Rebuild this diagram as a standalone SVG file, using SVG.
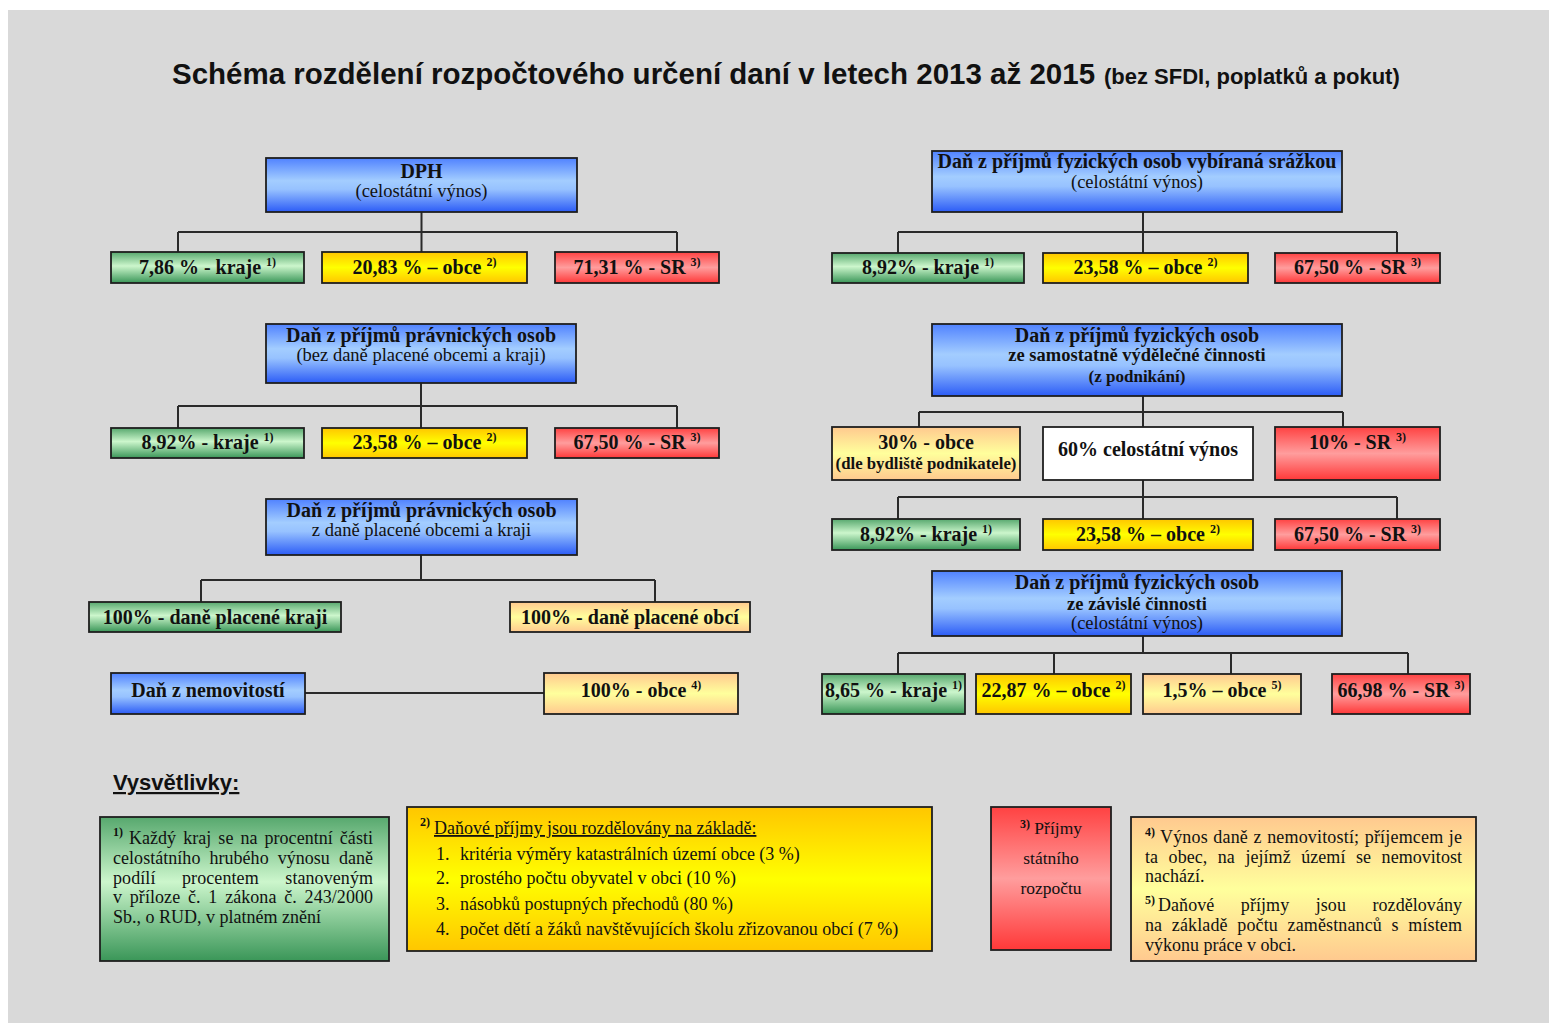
<svg xmlns="http://www.w3.org/2000/svg" width="1549" height="1023" viewBox="0 0 1549 1023">
<defs>
<linearGradient id="gBlue" x1="0" y1="0" x2="0" y2="1"><stop offset="0" stop-color="#5082ff"/><stop offset="0.42" stop-color="#a3cdff"/><stop offset="0.58" stop-color="#97c2ff"/><stop offset="1" stop-color="#2c5cf6"/></linearGradient>
<linearGradient id="gGreen" x1="0" y1="0" x2="0" y2="1"><stop offset="0" stop-color="#57a86e"/><stop offset="0.45" stop-color="#ccf6cc"/><stop offset="1" stop-color="#3a9658"/></linearGradient>
<linearGradient id="gYellow" x1="0" y1="0" x2="0" y2="1"><stop offset="0" stop-color="#ffc600"/><stop offset="0.5" stop-color="#ffff00"/><stop offset="1" stop-color="#ffc600"/></linearGradient>
<linearGradient id="gRed" x1="0" y1="0" x2="0" y2="1"><stop offset="0" stop-color="#ff4242"/><stop offset="0.5" stop-color="#ff9d9d"/><stop offset="1" stop-color="#ff3838"/></linearGradient>
<linearGradient id="gPeach" x1="0" y1="0" x2="0" y2="1"><stop offset="0" stop-color="#ffc98f"/><stop offset="0.5" stop-color="#ffff9c"/><stop offset="1" stop-color="#ffc98f"/></linearGradient>
</defs>
<style>
.box{stroke:#1e1e1e;stroke-width:1.8}
.blue{fill:url(#gBlue)} .green{fill:url(#gGreen)} .yellow{fill:url(#gYellow)} .red{fill:url(#gRed)} .peach{fill:url(#gPeach)} .white{fill:#ffffff}
.conn{stroke:#2a2a2a;stroke-width:2;fill:none}
.t{font-family:"Liberation Serif","Times New Roman",serif;fill:#111;text-anchor:middle}
.b{font-weight:bold;font-size:20px}
.r{font-size:18.5px}
.sup{font-size:12px;font-weight:bold}
.lg{font-family:"Liberation Serif","Times New Roman",serif;fill:#111;font-size:18px}
.lsup{font-size:12px;font-weight:bold}
.ttl{font-family:"Liberation Sans",Arial,sans-serif;font-weight:bold;fill:#111}
</style>
<rect x="8" y="10" width="1541" height="1013" fill="#d9d9d9"/>
<text class="ttl" x="172" y="84" style="font-size:29.5px">Schéma rozdělení rozpočtového určení daní v letech 2013 až 2015</text>
<text class="ttl" x="1104" y="84" style="font-size:22px">(bez SFDI, poplatků a pokut)</text>

<g id="connectors">
<path class="conn" d="M421.5 212V232M178 232H677M178 232V252M421.5 232V252M677 232V252"/>
<path class="conn" d="M421 383V406M178 406H677M178 406V428M421 406V428M677 406V428"/>
<path class="conn" d="M421 555V580M201 580H655M201 580V602M655 580V602"/>
<path class="conn" d="M305 693H544"/>
<path class="conn" d="M1143 212V232M898 232H1397M898 232V253M1143 232V253M1397 232V253"/>
<path class="conn" d="M1143 396V412M919 412H1343M919 412V427M1143 412V427M1343 412V427"/>
<path class="conn" d="M1143 480V497M898 497H1397M898 497V519M1143 497V519M1397 497V519"/>
<path class="conn" d="M1143 636V653M898 653H1408M898 653V674M1054 653V674M1231 653V674M1408 653V674"/>
</g>

<g id="dph"><rect class="box blue" x="266" y="158" width="311" height="54"/>
<text class="t b" x="421.5" y="178">DPH</text><text class="t r" x="421.5" y="197">(celostátní výnos)</text></g>
<g id="dph-kraje"><rect class="box green" x="111" y="252" width="193" height="31"/><text class="t b" x="207.5" y="274">7,86 % - kraje <tspan class="sup" dy="-8">1)</tspan></text></g>
<g id="dph-obce"><rect class="box yellow" x="322" y="252" width="205" height="31"/><text class="t b" x="424.5" y="274">20,83 % – obce <tspan class="sup" dy="-8">2)</tspan></text></g>
<g id="dph-sr"><rect class="box red" x="555" y="252" width="164" height="31"/><text class="t b" x="637" y="274">71,31 % - SR <tspan class="sup" dy="-8">3)</tspan></text></g>

<g id="dppo1"><rect class="box blue" x="266" y="324" width="310" height="59"/>
<text class="t b" x="421" y="342">Daň z příjmů právnických osob</text><text class="t r" x="421" y="361">(bez daně placené obcemi a kraji)</text></g>
<g id="dppo1-kraje"><rect class="box green" x="111" y="428" width="193" height="30"/><text class="t b" x="207.5" y="449">8,92% - kraje <tspan class="sup" dy="-8">1)</tspan></text></g>
<g id="dppo1-obce"><rect class="box yellow" x="322" y="428" width="205" height="30"/><text class="t b" x="424.5" y="449">23,58 % – obce <tspan class="sup" dy="-8">2)</tspan></text></g>
<g id="dppo1-sr"><rect class="box red" x="555" y="428" width="164" height="30"/><text class="t b" x="637" y="449">67,50 % - SR <tspan class="sup" dy="-8">3)</tspan></text></g>

<g id="dppo2"><rect class="box blue" x="266" y="499" width="311" height="56"/>
<text class="t b" x="421.5" y="517">Daň z příjmů právnických osob</text><text class="t r" x="421.5" y="536">z daně placené obcemi a kraji</text></g>
<g id="dppo2-kraje"><rect class="box green" x="89" y="602" width="252" height="30"/><text class="t b" x="215" y="624">100% - daně placené kraji</text></g>
<g id="dppo2-obce"><rect class="box peach" x="510" y="602" width="240" height="30"/><text class="t b" x="630" y="624">100% - daně placené obcí</text></g>

<g id="dnem"><rect class="box blue" x="111" y="673" width="194" height="41"/><text class="t b" x="208" y="697">Daň z nemovitostí</text></g>
<g id="dnem-obce"><rect class="box peach" x="544" y="673" width="194" height="41"/><text class="t b" x="641" y="697">100% - obce <tspan class="sup" dy="-8">4)</tspan></text></g>

<g id="dpfo-srazka"><rect class="box blue" x="932" y="151" width="410" height="61"/>
<text class="t b" x="1137" y="168">Daň z příjmů fyzických osob vybíraná srážkou</text><text class="t r" x="1137" y="188">(celostátní výnos)</text></g>
<g id="srazka-kraje"><rect class="box green" x="832" y="253" width="192" height="30"/><text class="t b" x="928" y="274">8,92% - kraje <tspan class="sup" dy="-8">1)</tspan></text></g>
<g id="srazka-obce"><rect class="box yellow" x="1043" y="253" width="205" height="30"/><text class="t b" x="1145.5" y="274">23,58 % – obce <tspan class="sup" dy="-8">2)</tspan></text></g>
<g id="srazka-sr"><rect class="box red" x="1275" y="253" width="165" height="30"/><text class="t b" x="1357.5" y="274">67,50 % - SR <tspan class="sup" dy="-8">3)</tspan></text></g>

<g id="dpfo-svc"><rect class="box blue" x="932" y="324" width="410" height="72"/>
<text class="t b" x="1137" y="342">Daň z příjmů fyzických osob</text><text class="t b" x="1137" y="361" style="font-size:18.5px">ze samostatně výdělečné činnosti</text><text class="t b" x="1137" y="382" style="font-size:17px">(z podnikání)</text></g>
<g id="svc-obce"><rect class="box peach" x="832" y="427" width="188" height="53"/><text class="t b" x="926" y="449">30% - obce</text><text class="t b" x="926" y="469" style="font-size:16.8px">(dle bydliště podnikatele)</text></g>
<g id="svc-celostatni"><rect class="box white" x="1043" y="427" width="210" height="53"/><text class="t b" x="1148" y="456">60% celostátní výnos</text></g>
<g id="svc-sr"><rect class="box red" x="1275" y="427" width="165" height="53"/><text class="t b" x="1357.5" y="449">10% - SR <tspan class="sup" dy="-8">3)</tspan></text></g>
<g id="svc-kraje"><rect class="box green" x="832" y="519" width="188" height="31"/><text class="t b" x="926" y="541">8,92% - kraje <tspan class="sup" dy="-8">1)</tspan></text></g>
<g id="svc-obce2"><rect class="box yellow" x="1043" y="519" width="210" height="31"/><text class="t b" x="1148" y="541">23,58 % – obce <tspan class="sup" dy="-8">2)</tspan></text></g>
<g id="svc-sr2"><rect class="box red" x="1275" y="519" width="165" height="31"/><text class="t b" x="1357.5" y="541">67,50 % - SR <tspan class="sup" dy="-8">3)</tspan></text></g>

<g id="dpfo-zc"><rect class="box blue" x="932" y="571" width="410" height="65"/>
<text class="t b" x="1137" y="589">Daň z příjmů fyzických osob</text><text class="t b" x="1137" y="610" style="font-size:18.5px">ze závislé činnosti</text><text class="t r" x="1137" y="629">(celostátní výnos)</text></g>
<g id="zc-kraje"><rect class="box green" x="822" y="674" width="143" height="40"/><text class="t b" x="893.5" y="697">8,65 % - kraje <tspan class="sup" dy="-8">1)</tspan></text></g>
<g id="zc-obce"><rect class="box yellow" x="976" y="674" width="155" height="40"/><text class="t b" x="1053.5" y="697">22,87 % – obce <tspan class="sup" dy="-8">2)</tspan></text></g>
<g id="zc-obce5"><rect class="box peach" x="1143" y="674" width="158" height="40"/><text class="t b" x="1222" y="697">1,5% – obce <tspan class="sup" dy="-8">5)</tspan></text></g>
<g id="zc-sr"><rect class="box red" x="1332" y="674" width="138" height="40"/><text class="t b" x="1401" y="697">66,98 % - SR <tspan class="sup" dy="-8">3)</tspan></text></g>

<text class="ttl" x="113" y="790" style="font-size:22px" text-decoration="underline">Vysvětlivky:</text>

<g id="legend1"><rect class="box green" x="100" y="817" width="289" height="144"/>
<text class="lg lsup" x="113" y="836">1)</text>
<text class="lg" x="129" y="844" word-spacing="2.5" textLength="244" lengthAdjust="spacing">Každý kraj se na procentní části</text>
<text class="lg" x="113" y="864" word-spacing="4.5" textLength="260" lengthAdjust="spacing">celostátního hrubého výnosu daně</text>
<text class="lg" x="113" y="884" word-spacing="22" textLength="260" lengthAdjust="spacing">podílí procentem stanoveným</text>
<text class="lg" x="113" y="903" word-spacing="3.2" textLength="260" lengthAdjust="spacing">v příloze č. 1 zákona č. 243/2000</text>
<text class="lg" x="113" y="923">Sb., o RUD, v platném znění</text></g>

<g id="legend2"><rect class="box yellow" x="407" y="807" width="525" height="144"/>
<text class="lg lsup" x="420" y="826">2)</text>
<text class="lg" x="434" y="834" text-decoration="underline">Daňové příjmy jsou rozdělovány na základě:</text>
<text class="lg" x="436" y="860">1.</text><text class="lg" x="460" y="860">kritéria výměry katastrálních území obce (3 %)</text>
<text class="lg" x="436" y="884">2.</text><text class="lg" x="460" y="884">prostého počtu obyvatel v obci (10 %)</text>
<text class="lg" x="436" y="910">3.</text><text class="lg" x="460" y="910">násobků postupných přechodů (80 %)</text>
<text class="lg" x="436" y="935">4.</text><text class="lg" x="460" y="935">počet dětí a žáků navštěvujících školu zřizovanou obcí (7 %)</text></g>

<g id="legend3"><rect class="box red" x="991" y="807" width="120" height="143"/>
<text class="lg" x="1051" y="834" text-anchor="middle" style="font-size:17.5px"><tspan class="lsup" dy="-6">3)</tspan><tspan dy="6"> Příjmy</tspan></text>
<text class="lg" x="1051" y="864" text-anchor="middle" style="font-size:17.5px">státního</text>
<text class="lg" x="1051" y="894" text-anchor="middle" style="font-size:17.5px">rozpočtu</text></g>

<g id="legend4"><rect class="box peach" x="1131" y="817" width="345" height="144"/>
<text class="lg lsup" x="1145" y="836">4)</text>
<text class="lg" x="1160" y="843" word-spacing="0.8" textLength="302" lengthAdjust="spacing">Výnos daně z nemovitostí; příjemcem je</text>
<text class="lg" x="1145" y="863" word-spacing="6" textLength="317" lengthAdjust="spacing">ta obec, na jejímž území se nemovitost</text>
<text class="lg" x="1145" y="882">nachází.</text>
<text class="lg lsup" x="1145" y="904">5)</text>
<text class="lg" x="1158" y="911" word-spacing="22" textLength="304" lengthAdjust="spacing">Daňové příjmy jsou rozdělovány</text>
<text class="lg" x="1145" y="931" word-spacing="5" textLength="317" lengthAdjust="spacing">na základě počtu zaměstnanců s místem</text>
<text class="lg" x="1145" y="951">výkonu práce v obci.</text></g>
</svg>
